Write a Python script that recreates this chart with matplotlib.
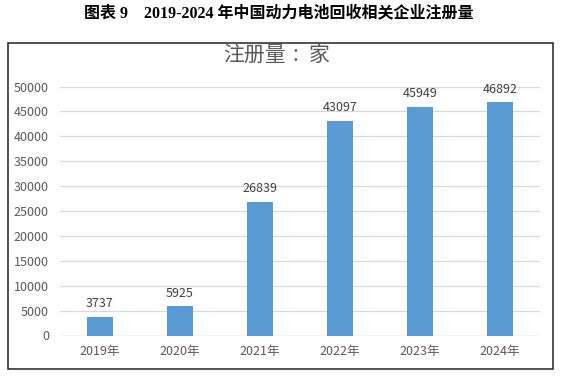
import matplotlib.pyplot as plt
from matplotlib.patches import Rectangle

years = ['2019年', '2020年', '2021年', '2022年', '2023年', '2024年']
counts = [3737, 5925, 26839, 43097, 45949, 46892]
yticks = [0, 5000, 10000, 15000, 20000, 25000, 30000, 35000, 40000, 45000, 50000]

plt.rcParams['font.family'] = ['Noto Sans CJK SC', 'DejaVu Sans']

W, H = 569, 377
fig = plt.figure(figsize=(W / 100, H / 100), dpi=100)

# outer frame around the chart
fig.patches.append(Rectangle((8 / W, 1 - 369 / H), (553 - 8) / W, (369 - 43) / H,
                             transform=fig.transFigure, fill=False,
                             edgecolor='#222222', linewidth=1.1))

fig.text(279 / W, 1 - 13 / H, '图表 9    2019-2024 年中国动力电池回收相关企业注册量',
         ha='center', va='center', fontsize=11.5, fontweight='bold',
         family=['Liberation Serif', 'Noto Sans CJK SC'])

ax = fig.add_axes([60 / W, 1 - 335.5 / H, (540 - 60) / W, (335.5 - 86.5) / H])
x = range(len(years))
ax.bar(x, counts, width=0.32, color='#5B9BD5', zorder=3)
for xi, v in zip(x, counts):
    ax.text(xi, v + 1300, str(v), ha='center', va='bottom', fontsize=9, color='#404040')

ax.set_xlim(-0.5, len(years) - 0.5)
ax.set_ylim(0, 50000)
ax.set_yticks(yticks)
ax.set_xticks(list(x))
ax.set_xticklabels(years)
ax.tick_params(axis='both', length=0, labelsize=9, labelcolor='#595959')
ax.tick_params(axis='x', pad=7)
ax.tick_params(axis='y', pad=8)
ax.grid(axis='y', color='#D9D9D9', linewidth=0.9, zorder=0)
for s in ax.spines.values():
    s.set_visible(False)
ax.axhline(0, color='#D9D9D9', linewidth=0.9, zorder=1)

# chart title "注册量：家", colon sits centred between the words
ty = 1 - 55 / H
fig.text(223 / W, ty, '注册量', ha='left', va='center', fontsize=15, color='#595959')
fig.text(295 / W, ty, ':', ha='center', va='center', fontsize=15, color='#595959')
fig.text(309 / W, ty, '家', ha='left', va='center', fontsize=15, color='#595959')

fig.savefig('out.png', dpi=100)
